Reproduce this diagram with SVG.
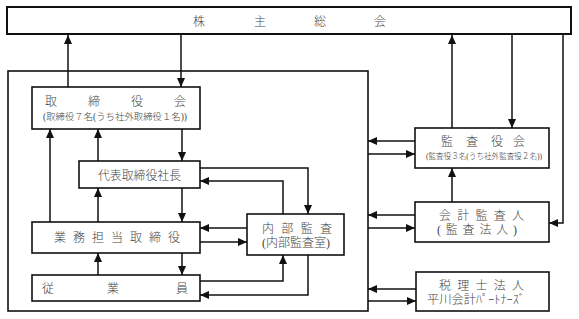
<svg xmlns="http://www.w3.org/2000/svg" width="579" height="319" viewBox="0 0 579 319">
<style>
.box{fill:#fff;stroke:#111;stroke-width:1.6}
.top{fill:#fff;stroke:#111;stroke-width:2}
.ln{fill:none;stroke:#111;stroke-width:1.5}
text{font-family:"Liberation Serif","Noto Sans CJK JP",serif;fill:#444;font-size:12px;font-weight:300}
.s{font-size:9.5px}
.xs{font-size:8.5px}
</style>
<defs>
<marker id="ah" markerUnits="userSpaceOnUse" markerWidth="9" markerHeight="8" refX="9" refY="4" orient="auto">
<path d="M0,0 L9,4 L0,8 z" fill="#111"/>
</marker>
</defs>
<rect x="0" y="0" width="579" height="319" fill="#fff"/>
<rect x="8" y="71" width="360" height="240" class="box"/>
<g id="shareholders">
<rect x="7" y="7" width="564" height="27" class="top"/>
<text x="193 254 314 374" y="26">株主総会</text>
</g>
<g id="board">
<rect x="32" y="87" width="168" height="42" class="box"/>
<text x="45 88 131 174" y="106">取締役会</text>
<text class="s" x="43" y="120" textLength="144" lengthAdjust="spacingAndGlyphs">(取締役７名(うち社外取締役１名))</text>
</g>
<g id="president">
<rect x="79" y="161" width="121" height="27" class="box"/>
<text x="98" y="180" textLength="83" lengthAdjust="spacingAndGlyphs">代表取締役社長</text>
</g>
<g id="executives">
<rect x="32" y="222" width="168" height="31" class="box"/>
<text x="54" y="242" textLength="126" lengthAdjust="spacing">業務担当取締役</text>
</g>
<g id="employees">
<rect x="32" y="275" width="168" height="26" class="box"/>
<text x="42 107 176" y="293">従業員</text>
</g>
<g id="internal-audit">
<rect x="247" y="214" width="97" height="41" class="box"/>
<text x="262" y="233" textLength="70" lengthAdjust="spacing">内部監査</text>
<text x="262" y="247" textLength="68" lengthAdjust="spacingAndGlyphs">(内部監査室)</text>
</g>
<g id="auditors">
<rect x="415" y="128" width="134" height="40" class="box"/>
<text x="441 466 491 513" y="146">監査役会</text>
<text class="xs" x="426" y="159" textLength="116" lengthAdjust="spacingAndGlyphs">(監査役３名(うち社外監査役２名))</text>
</g>
<g id="accounting-auditor">
<rect x="415" y="202" width="134" height="40" class="box"/>
<text x="439" y="220" textLength="85" lengthAdjust="spacing">会計監査人</text>
<text x="437" y="234" textLength="80" lengthAdjust="spacing">(監査法人)</text>
</g>
<g id="tax-firm">
<rect x="416" y="272" width="133" height="39" class="box"/>
<text x="439" y="290" textLength="85" lengthAdjust="spacing">税理士法人</text>
<text x="427" y="304" textLength="98" lengthAdjust="spacingAndGlyphs">平川会計ﾊﾟｰﾄﾅｰｽﾞ</text>
</g>
<g id="connectors">
<path class="ln" marker-end="url(#ah)" d="M68,87 V35"/>
<path class="ln" marker-end="url(#ah)" d="M181,35 V87"/>
<path class="ln" marker-end="url(#ah)" d="M182,129 V161"/>
<path class="ln" marker-end="url(#ah)" d="M98,161 V129"/>
<path class="ln" marker-end="url(#ah)" d="M50,222 V129"/>
<path class="ln" marker-end="url(#ah)" d="M98,222 V188"/>
<path class="ln" marker-end="url(#ah)" d="M182,188 V222"/>
<path class="ln" marker-end="url(#ah)" d="M98,275 V253"/>
<path class="ln" marker-end="url(#ah)" d="M182,253 V275"/>
<path class="ln" marker-end="url(#ah)" d="M200,168 H308 V214"/>
<path class="ln" marker-end="url(#ah)" d="M283,214 V181 H200"/>
<path class="ln" marker-end="url(#ah)" d="M247,228 H200"/>
<path class="ln" marker-end="url(#ah)" d="M200,242 H247"/>
<path class="ln" marker-end="url(#ah)" d="M200,281 H283 V255"/>
<path class="ln" marker-end="url(#ah)" d="M308,255 V295 H200"/>
<path class="ln" marker-end="url(#ah)" d="M415,141 H368"/>
<path class="ln" marker-end="url(#ah)" d="M368,154 H415"/>
<path class="ln" marker-end="url(#ah)" d="M452,128 V35"/>
<path class="ln" marker-end="url(#ah)" d="M512,35 V128"/>
<path class="ln" marker-end="url(#ah)" d="M452,202 V168"/>
<path class="ln" marker-end="url(#ah)" d="M563,35 V223 H549"/>
<path class="ln" marker-end="url(#ah)" d="M415,215 H368"/>
<path class="ln" marker-end="url(#ah)" d="M368,228 H415"/>
<path class="ln" marker-end="url(#ah)" d="M416,289 H368"/>
<path class="ln" marker-end="url(#ah)" d="M368,301 H416"/>
</g>
</svg>
